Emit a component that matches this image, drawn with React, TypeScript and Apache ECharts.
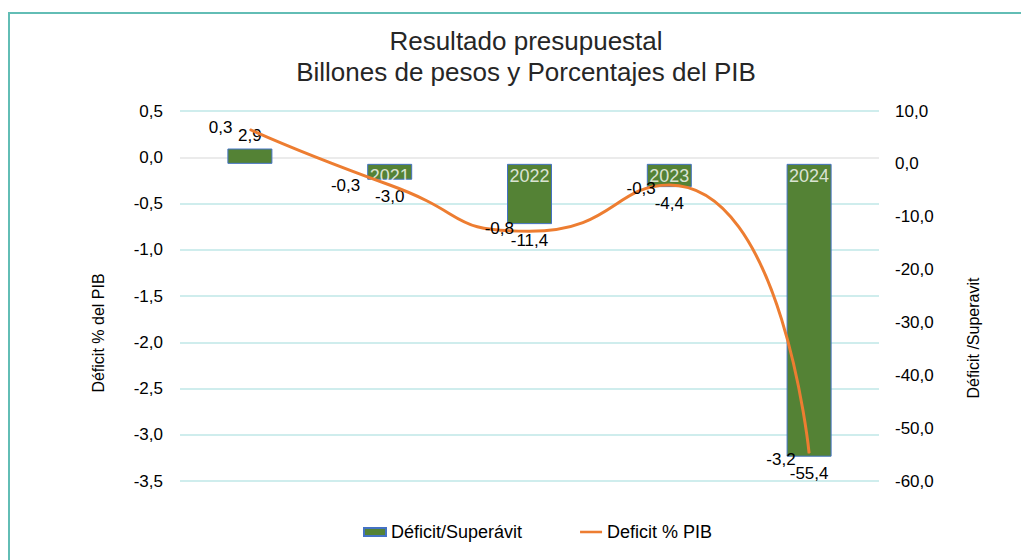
import React, { useEffect, useRef } from "react";
import * as echarts from "echarts";

const categories = ["2020", "2021", "2022", "2023", "2024"];
const balanceBillones = [2.9, -3.0, -11.4, -4.4, -55.4];
const deficitPctPIB = [0.3, -0.3, -0.8, -0.3, -3.2];
const leftTicks = { min: -3.5, max: 0.5, interval: 0.5 };
const rightTicks = { min: -60, max: 10, interval: 10 };

const fmt = (v: number) => v.toFixed(1).replace(".", ",");
const FONT = "Liberation Sans, Arial, sans-serif";

export default function App() {
  const ref = useRef<HTMLDivElement>(null);
  useEffect(() => {
    if (!ref.current) return;
    const chart = echarts.init(ref.current, undefined, { renderer: "svg" });
    const gridColors = [
      "#bfe7e7", "#bfe7e7", "#bfe7e7", "#bfe7e7", "#bfe7e7",
      "#bfe7e7", "#bfe7e7", "#e4e4e4", "#bfe7e7",
    ];
    const lineLabelTweaks: any[] = [
      { offset: [-8, -2] },
      { offset: [-20, 0] },
      { offset: [-6, -3] },
      { offset: [-4, 3] },
      { offset: [-4, 6] },
    ];
    chart.setOption({
      animation: false,
      textStyle: { fontFamily: FONT },
      grid: { left: 180, right: 142, top: 111, bottom: 79, containLabel: false },
      legend: {
        left: 358,
        top: 518,
        itemGap: 58,
        itemWidth: 22,
        itemHeight: 8,
        textStyle: { fontSize: 18, color: "#000", fontFamily: FONT },
        data: [
          { name: "Déficit/Superávit", icon: "rect" },
          { name: "Deficit % PIB", icon: "path://M0 0H26V3H0Z", itemStyle: { color: "#ED7D31" } },
        ],
      },
      xAxis: {
        type: "category",
        data: categories,
        axisLine: { show: true, onZero: true, onZeroAxisIndex: 1, lineStyle: { color: "rgba(0,0,0,0)" } },
        axisTick: { show: false },
        axisLabel: { show: false },
        splitLine: { show: false },
      },
      yAxis: [
        {
          type: "value",
          min: leftTicks.min,
          max: leftTicks.max,
          interval: leftTicks.interval,
          axisLine: { show: false },
          axisTick: { show: false },
          axisLabel: { formatter: fmt, fontSize: 17, color: "#000", margin: 17, fontFamily: FONT },
          splitLine: { show: true, lineStyle: { color: gridColors, width: 1.5 } },
        },
        {
          type: "value",
          min: rightTicks.min,
          max: rightTicks.max,
          interval: rightTicks.interval,
          axisLine: { show: false },
          axisTick: { show: false },
          axisLabel: { formatter: fmt, fontSize: 17, color: "#000", margin: 16, fontFamily: FONT },
          splitLine: { show: false },
        },
      ],
      series: [
        {
          name: "Déficit/Superávit",
          type: "bar",
          yAxisIndex: 1,
          barWidth: 45,
          z: 2,
          itemStyle: { color: "#548235", borderColor: "#4472C4", borderWidth: 1 },
          data: balanceBillones.map((v) => ({
            value: v,
            label: { position: v >= 0 ? "top" : "bottom", distance: v >= 0 ? 5 : 8 },
          })),
          label: {
            show: true,
            fontSize: 17,
            color: "#000",
            fontFamily: FONT,
            formatter: (p: any) => fmt(p.value),
          },
        },
        {
          name: "categoryLabels",
          type: "scatter",
          yAxisIndex: 1,
          z: 5,
          symbol: "circle",
          symbolSize: 1,
          itemStyle: { color: "rgba(0,0,0,0)" },
          silent: true,
          data: categories.map(() => 0),
          label: {
            show: true,
            position: "bottom",
            distance: 3,
            fontSize: 18,
            color: "#ffffff",
            fontFamily: FONT,
            formatter: (p: any) => categories[p.dataIndex],
          },
        },
        {
          name: "Deficit % PIB",
          type: "line",
          yAxisIndex: 0,
          smooth: 0.6,
          symbol: "circle",
          symbolSize: 1,
          showSymbol: true,
          z: 12,
          lineStyle: { color: "#ED7D31", width: 3 },
          itemStyle: { color: "#ED7D31" },
          data: deficitPctPIB.map((v, i) => ({
            value: v,
            label: lineLabelTweaks[i],
          })),
          label: {
            show: true,
            position: "left",
            distance: 9,
            fontSize: 17,
            color: "#000",
            fontFamily: FONT,
            formatter: (p: any) => fmt(p.value),
          },
        },
      ],
      graphic: [
        {
          type: "rect",
          shape: { x: 9, y: 13, width: 1100, height: 700 },
          style: { fill: "none", stroke: "#62bdb5", lineWidth: 2 },
          silent: true,
        },
        {
          type: "text",
          x: 526,
          y: 41,
          style: {
            text: "Resultado presupuestal",
            font: `26px ${FONT}`,
            fill: "#262626",
            textAlign: "center",
            textVerticalAlign: "middle",
          },
        },
        {
          type: "text",
          x: 526,
          y: 72,
          style: {
            text: "Billones de pesos y Porcentajes del PIB",
            font: `26px ${FONT}`,
            fill: "#262626",
            textAlign: "center",
            textVerticalAlign: "middle",
          },
        },
        {
          type: "text",
          x: 98,
          y: 333,
          rotation: Math.PI / 2,
          style: {
            text: "Déficit % del PIB",
            font: `16px ${FONT}`,
            fill: "#000",
            textAlign: "center",
            textVerticalAlign: "middle",
          },
        },
        {
          type: "text",
          x: 973,
          y: 338,
          rotation: Math.PI / 2,
          style: {
            text: "Déficit /Superavit",
            font: `16px ${FONT}`,
            fill: "#000",
            textAlign: "center",
            textVerticalAlign: "middle",
          },
        },
      ],
    });
    return () => chart.dispose();
  }, []);
  return (
    <div
      ref={ref}
      style={{ position: "fixed", left: 0, top: 0, width: 1021, height: 560, background: "#fff" }}
    />
  );
}
